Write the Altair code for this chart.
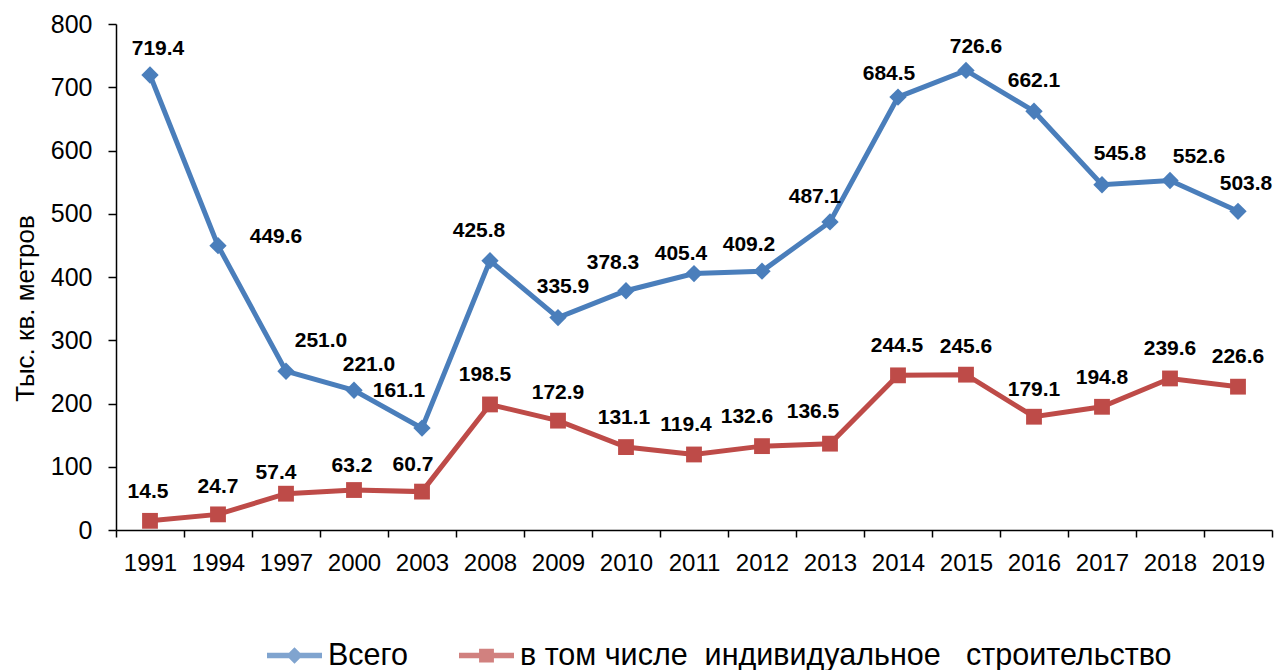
import altair as alt
import pandas as pd

years = ["1991", "1994", "1997", "2000", "2003", "2008", "2009", "2010", "2011",
         "2012", "2013", "2014", "2015", "2016", "2017", "2018", "2019"]
total = [719.4, 449.6, 251.0, 221.0, 161.1, 425.8, 335.9, 378.3, 405.4,
         409.2, 487.1, 684.5, 726.6, 662.1, 545.8, 552.6, 503.8]
individual = [14.5, 24.7, 57.4, 63.2, 60.7, 198.5, 172.9, 131.1, 119.4,
              132.6, 136.5, 244.5, 245.6, 179.1, 194.8, 239.6, 226.6]
series_names = ["Всего", "в том числе\u00a0 индивидуальное\u00a0\u00a0 строительство"]
y_title = "Тыс. кв. метров"

BLUE = "#4A7EBB"
RED = "#BE4B48"
FONT = "Liberation Sans"

# label offsets (dx, dy) in pixels, one per year
total_label_offsets = [(8, -26), (58, -9), (35, -30), (15, -25), (-23, -37), (-11, -30),
                       (5, -31), (-13, -28), (-13, -20), (-13, -26), (-15, -25), (-9, -23),
                       (10, -23), (0, -30), (18, -31), (29, -23), (8, -27)]
indiv_label_offsets = [(-2, -29), (0, -27), (-10, -21), (-2, -24), (-9, -27), (-5, -29),
                       (0, -28), (-2, -29), (-8, -29), (-15, -29), (-17, -32), (-1, -29),
                       (0, -28), (0, -27), (0, -29), (0, -29), (0, -30)]

df = pd.DataFrame({
    "year": years * 2,
    "value": total + individual,
    "series": [series_names[0]] * len(years) + [series_names[1]] * len(years),
})

X = alt.X("year:N", sort=years,
          scale=alt.Scale(type="band", paddingInner=0, paddingOuter=0),
          axis=alt.Axis(title=None, tickBand="extent", labelAngle=0, labelFont=FONT,
                        labelFontSize=24, labelColor="black", labelPadding=14,
                        tickSize=7, tickColor="black", tickWidth=1.5,
                        domainColor="black", domainWidth=1.5, grid=False))
Y = alt.Y("value:Q",
          scale=alt.Scale(domain=[0, 800], nice=False, zero=True),
          axis=alt.Axis(title=y_title, values=list(range(0, 801, 100)), labelFont=FONT,
                        labelFontSize=25, labelColor="black", labelPadding=16,
                        tickSize=8, tickColor="black", tickWidth=1.5,
                        domainColor="black", domainWidth=1.5, grid=False,
                        titleFont=FONT, titleFontSize=26, titleFontWeight="normal",
                        titleColor="black", titleAngle=270, titleX=-91, titleY=284,
                        titleAlign="center", titleBaseline="middle"))

base = alt.Chart(df)
layers = []
for name, color, shape, size in ((series_names[0], BLUE, "diamond", 300),
                                 (series_names[1], RED, "square", 250)):
    sub = base.transform_filter(alt.datum.series == name)
    layers.append(sub.mark_line(color=color, strokeWidth=5).encode(x=X, y=Y))
    layers.append(sub.mark_point(shape=shape, size=size, filled=True, opacity=1,
                                 color=color).encode(x=X, y=Y))

for name, offsets in ((series_names[0], total_label_offsets),
                      (series_names[1], indiv_label_offsets)):
    for yr, (dx, dy) in zip(years, offsets):
        layers.append(
            base.transform_filter((alt.datum.series == name) & (alt.datum.year == yr))
            .mark_text(dx=dx, dy=dy, font=FONT, fontSize=21, fontWeight="bold",
                       color="black", align="center", baseline="middle")
            .encode(x=X, y=Y, text=alt.Text("value:Q", format=".1f"))
        )

blue_sym = ("M-1,-0.1L-0.2,-0.1L0,-0.3L0.2,-0.1L1,-0.1L1,0.1L0.2,0.1"
            "L0,0.3L-0.2,0.1L-1,0.1Z")
red_sym = ("M-1,-0.1L-0.27,-0.1L-0.27,-0.25L0.27,-0.25L0.27,-0.1L1,-0.1L1,0.1"
           "L0.27,0.1L0.27,0.25L-0.27,0.25L-0.27,0.1L-1,0.1Z")

legend_cfg = dict(title=None, orient="none", legendX=151, legendY=604,
                  direction="horizontal", symbolSize=3025,
                  labelFont=FONT, labelFontSize=30.5, labelColor="black",
                  labelOffset=6, columnPadding=51, padding=0,
                  labelLimit=0, symbolStrokeWidth=0)

legend_layer = base.transform_filter("datum.value < 0").mark_point(filled=True).encode(
    x=X, y=Y,
    color=alt.Color("series:N", scale=alt.Scale(domain=series_names, range=[BLUE, RED]),
                    legend=alt.Legend(**legend_cfg)),
    shape=alt.Shape("series:N", scale=alt.Scale(domain=series_names, range=[blue_sym, red_sym]),
                    legend=alt.Legend(**legend_cfg)),
)
layers.append(legend_layer)

chart = alt.layer(*layers).properties(
    width=1156, height=506,
    autosize=alt.AutoSizeParams(type="none"),
    padding={"left": 108, "top": 16, "right": 7, "bottom": 140},
    background="white",
).configure_view(stroke=None)

chart.save("out.html", embed_options={"renderer": "svg", "actions": False})
